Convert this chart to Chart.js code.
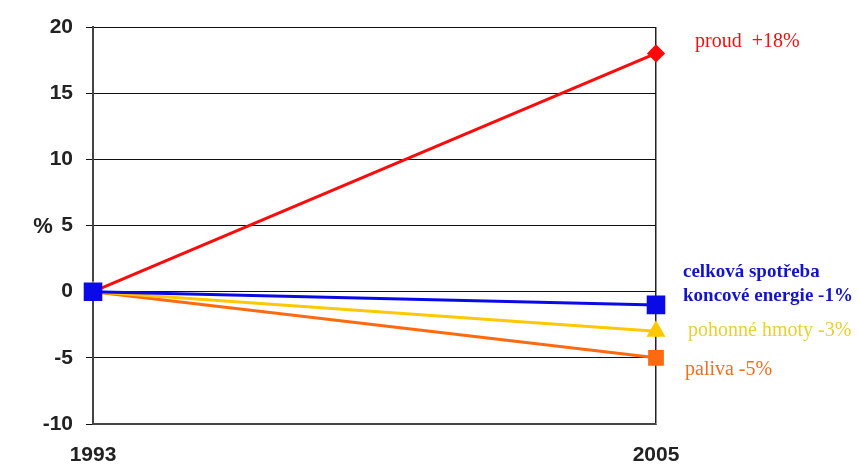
<!DOCTYPE html>
<html>
<head>
<meta charset="utf-8">
<script src="https://cdn.jsdelivr.net/npm/chart.js@4/dist/chart.umd.min.js"></script>
<style>
  html, body { margin: 0; padding: 0; background: #fff; }
  #wrap { width: 858px; height: 468px; }
</style>
</head>
<body>
<div id="wrap"><canvas id="spotreba"></canvas></div>
<script>
// roky a změny spotřeby v %
const roky = ['1993', '2005'];
const proud = [0, 18];
const celkova = [0, -1];
const pohonne = [0, -3];
const paliva = [0, -5];
const yTicks = [-10, -5, 0, 5, 10, 15, 20];

// popisky u konců čar (text + hodnota z dat)
const popisky = [
  { ds: 0, lines: ['proud  +' + proud[1] + '%'], color: '#ee1111', font: '20px "Liberation Serif"', dx: 39, dy: -12 },
  { ds: 1, lines: ['celková spotřeba', 'koncové energie ' + celkova[1] + '%'], color: '#1515c8', font: 'bold 19px "Liberation Serif"', dx: 27, dy: -33, lh: 24 },
  { ds: 2, lines: ['pohonné hmoty ' + pohonne[1] + '%'], color: '#e8d030', font: '20px "Liberation Serif"', dx: 32, dy: -1 },
  { ds: 3, lines: ['paliva ' + paliva[1] + '%'], color: '#f07020', font: '20px "Liberation Serif"', dx: 29, dy: 12 }
];

const popiskyPlugin = {
  id: 'popisky',
  afterDraw(chart) {
    const ctx = chart.ctx;
    ctx.save();
    ctx.textBaseline = 'middle';
    ctx.textAlign = 'left';
    popisky.forEach(p => {
      const pt = chart.getDatasetMeta(p.ds).data[1];
      ctx.fillStyle = p.color;
      ctx.font = p.font;
      p.lines.forEach((t, i) => {
        ctx.fillText(t, pt.x + p.dx, pt.y + p.dy + i * (p.lh || 0));
      });
    });
    // jednotka osy
    ctx.fillStyle = '#222';
    ctx.font = 'bold 22px "Liberation Sans"';
    ctx.textAlign = 'center';
    ctx.fillText('%', 43, chart.scales.y.getPixelForValue(5) + 1);
    ctx.restore();
  }
};

const ctx = document.getElementById('spotreba');
new Chart(ctx, {
  type: 'line',
  data: {
    labels: roky,
    datasets: [
      { data: proud, borderColor: '#ff0a0a', backgroundColor: '#ff0a0a', borderWidth: 3, pointStyle: 'rectRot', pointRadius: 7, order: 4 },
      { data: celkova, borderColor: '#0a0ae6', backgroundColor: '#0a0ae6', borderWidth: 3, pointStyle: 'rect', pointRadius: 11, order: 1 },
      { data: pohonne, borderColor: '#ffc800', backgroundColor: '#ffc800', borderWidth: 3, pointStyle: 'triangle', pointRadius: 8, order: 2 },
      { data: paliva, borderColor: '#ff6a10', backgroundColor: '#ff6a10', borderWidth: 3, pointStyle: 'rect', pointRadius: 9, order: 3 }
    ]
  },
  options: {
    responsive: true,
    maintainAspectRatio: false,
    animation: false,
    layout: { padding: { top: 27, right: 202, left: 0, bottom: 0 } },
    plugins: {
      legend: { display: false },
      tooltip: { enabled: false }
    },
    scales: {
      x: {
        offset: false,
        grid: { color: '#222', lineWidth: 1.5, tickLength: 0 },
        border: { color: '#444', width: 2 },
        ticks: { color: '#222', font: { family: 'Liberation Sans', size: 21, weight: 'bold' }, padding: 19, maxRotation: 0 },
        afterFit: s => { s.height = 44; }
      },
      y: {
        min: -10,
        max: 20,
        afterBuildTicks: s => { s.ticks = yTicks.map(v => ({ value: v })); },
        grid: { color: '#111', lineWidth: 1, tickLength: 7 },
        border: { color: '#444', width: 2 },
        ticks: { color: '#222', font: { family: 'Liberation Sans', size: 21, weight: 'bold' }, padding: 13 },
        afterFit: s => { s.width = 93; }
      }
    }
  },
  plugins: [popiskyPlugin]
});
</script>
</body>
</html>
